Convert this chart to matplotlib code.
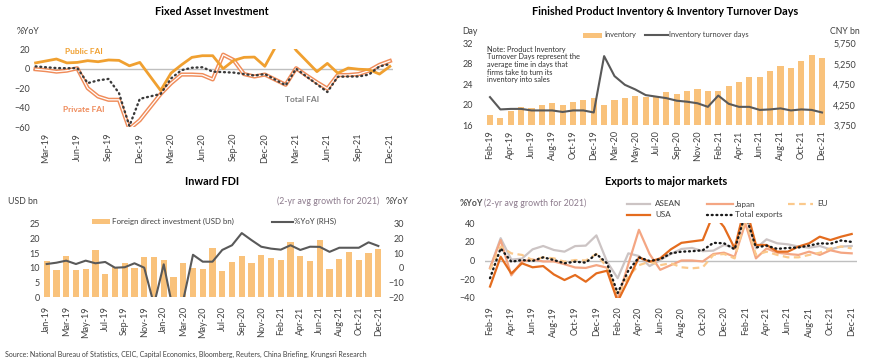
import matplotlib
matplotlib.use("Agg")
import matplotlib.pyplot as plt
import matplotlib.patheffects as pe
from matplotlib.lines import Line2D
from matplotlib.patches import Rectangle
import numpy as np
import pandas as pd

plt.rcParams['font.family'] = ['Lato', 'DejaVu Sans']

# ---------------- DATA ----------------
# Panel 1: Fixed Asset Investment (%YoY)
fai_months = ["Feb-19", "Mar-19", "Apr-19", "May-19", "Jun-19", "Jul-19", "Aug-19", "Sep-19", "Oct-19", "Nov-19", "Dec-19",
              "Feb-20", "Mar-20", "Apr-20", "May-20", "Jun-20", "Jul-20", "Aug-20", "Sep-20", "Oct-20", "Nov-20", "Dec-20",
              "Jan-21", "Feb-21", "Mar-21", "Apr-21", "May-21", "Jun-21", "Jul-21", "Aug-21", "Sep-21", "Oct-21", "Nov-21", "Dec-21"]
public_fai = [6, 8, 10, 6, 6.5, 8.3, 7.2, 9, 8.6, 3, 6.5,
              -22.4, -4.5, 4, 11.7, 13.4, 13.4, 0, 8.5, 11.7, 12, 2.5,
              22, 35, 19, 8, -3, 5.5, -4.5, 0.7, -0.5, -1, -5.5, 2.4]
private_fai = [-0.5, -1.5, -3, -2, 0.5, -20, -28.6, -32, -32, -62, -53,
               -26, -15, -6, -6, -6.5, -11, 14.5, 9, -5.5, -8, -6,
               np.nan, -16.5, 0.5, -7, -14, -20.5, -6.5, -6.5, -5.5, -2, 4, 8]
total_fai = [2.4, 1.5, 0.7, 0.5, 0.7, -14.8, -12, -10.5, -25, -59, -31,
             -26, -10, -1.5, 1, 1.5, -3, -3.5, -4, -5.5, -7, -5.5,
             np.nan, -17, 0, -8, -16, -24, -8.3, -8, -8, -6, 2.4, 4.8]
fai_ticks = ["Mar-19", "Jun-19", "Sep-19", "Dec-19", "Mar-20", "Jun-20", "Sep-20", "Dec-20",
             "Mar-21", "Jun-21", "Sep-21", "Dec-21"]

# Panel 2: Finished product inventory (CNY bn) & turnover days
inv_months = ["Feb-19", "Mar-19", "Apr-19", "May-19", "Jun-19", "Jul-19", "Aug-19", "Sep-19", "Oct-19", "Nov-19", "Dec-19",
              "Feb-20", "Mar-20", "Apr-20", "May-20", "Jun-20", "Jul-20", "Aug-20", "Sep-20", "Oct-20", "Nov-20", "Dec-20",
              "Feb-21", "Mar-21", "Apr-21", "May-21", "Jun-21", "Jul-21", "Aug-21", "Sep-21", "Oct-21", "Nov-21", "Dec-21"]
inventory = [4000, 3925, 4095, 4185, 4175, 4245, 4285, 4240, 4320, 4370, 4420,
             4240, 4375, 4420, 4460, 4430, 4450, 4555, 4520, 4580, 4635, 4595,
             4595, 4717, 4799, 4929, 4937, 5075, 5197, 5148, 5319, 5465, 5400]
turnover_days = [21.5, 19.1, 19.2, 19.2, 18.9, 18.9, 18.9, 18.6, 18.9, 18.9, 18.5,
                 29.5, 25.6, 23.9, 23.0, 21.9, 21.6, 21.3, 20.8, 20.6, 20.3, 19.6,
                 21.8, 20.2, 19.6, 19.6, 19.0, 19.1, 19.3, 18.9, 19.1, 19.0, 18.5]
inv_ticks = inv_months[::2]

# Panel 3: Inward FDI
fdi_months = ["Jan-19", "Feb-19", "Mar-19", "Apr-19", "May-19", "Jun-19", "Jul-19", "Aug-19", "Sep-19", "Oct-19", "Nov-19", "Dec-19",
              "Jan-20", "Feb-20", "Mar-20", "Apr-20", "May-20", "Jun-20", "Jul-20", "Aug-20", "Sep-20", "Oct-20", "Nov-20", "Dec-20",
              "Feb-21", "Mar-21", "Apr-21", "May-21", "Jun-21", "Jul-21", "Aug-21", "Sep-21", "Oct-21", "Nov-21", "Dec-21"]
fdi_usd = [12.4, 9.3, 14.0, 9.3, 9.5, 16.1, 8.0, 10.3, 11.6, 10.1, 13.6, 13.7,
           12.6, 6.8, 11.7, 10.0, 9.8, 16.7, 9.0, 12.0, 14.2, 11.8, 14.3, 13.4,
           12.7, 18.9, 14.2, 12.5, 19.4, 9.8, 13.1, 15.5, 12.7, 15.1, 16.4]
fdi_yoy = [2.7, 3.6, 5.0, 2.7, 5.0, 3.2, 4.1, 0.2, 0.5, 3.2, 0.2, -25,
           2.5, -30, -22, 9, 4.3, 4.3, 12.3, 15.5, 23.8, 19, 14.5, 13.2,
           12.5, 15.5, 12.3, 14.5, 14.4, 11, 13.8, 13.8, 13.8, 17.5, 15]
fdi_ticks = fdi_months[::2]

# Panel 4: Exports to major markets (%YoY)
exp_months = ["Feb-19", "Mar-19", "Apr-19", "May-19", "Jun-19", "Jul-19", "Aug-19", "Sep-19", "Oct-19", "Nov-19", "Dec-19",
              "Jan-20", "Feb-20", "Mar-20", "Apr-20", "May-20", "Jun-20", "Jul-20", "Aug-20", "Sep-20", "Oct-20", "Nov-20", "Dec-20",
              "Jan-21", "Feb-21", "Mar-21", "Apr-21", "May-21", "Jun-21", "Jul-21", "Aug-21", "Sep-21", "Oct-21", "Nov-21", "Dec-21"]
asean = [-8, 24, 1, 2, 12, 15.6, 11.3, 9.5, 15.5, 16, 27,
         -1.3, -19, 7.7, 4.8, -6, 0.5, 7, 12.4, 13.5, 10, 10.6, 16.7,
         14, 50, 13, 22.8, 18.5, 17.4, 15, 13.8, 15.6, 12, 15, 15.6]
japan = [-8, 22, -16, -1, 1, -1, -1, -4, -7.5, -8, -5,
         -7.7, -42, -4, 33, 7, -10, -5, 0, 0, -1, 7, 8.4,
         4, 40, 2.3, 13, 8.4, 7, 6, 9.5, 6, 11, 8.4, 7.7]
eu = [-10, 15, 7.7, 6, 0.5, 3.4, 2.3, -1.3, 0.5, 0, 7,
      -7.3, -37, -17, -5, -1.3, -5, -3, -7.3, -8.4, -7.3, 6, 7,
      2.3, 45, 6, 9.5, 6, 3.4, 3.4, 6, 8.4, 13, 15, 13]
usa = [-28, 4, -14, -3, -7.3, -6, -15, -21, -15.6, -22.8, -13.8,
       -11, -44, -21, 3.4, -1.3, 2.3, 12, 19, 20.5, 22, 50, 36,
       13, 60, 16.7, 16.7, 9.5, 9.5, 15, 18.5, 25.6, 22, 25.6, 28.5]
total_exports = [-19, 13, -1.3, 0.5, -0.5, 3.4, 0.5, -3, -1.3, -2.3, 7,
                 -3, -35, -11, 3.4, -0.5, 1.3, 7.7, 9.5, 10, 11, 19, 18.5,
                 12, 50, 14, 16, 12.5, 13.5, 14, 16, 18.5, 18, 21.5, 20]
exp_ticks = exp_months[::2]

# ---------------- STYLE ----------------
W, H = 870, 364
fig = plt.figure(figsize=(W / 100, H / 100), dpi=100)
TXT = '#404040'
BAR = '#F9C27B'
DARKLINE = '#595959'
MAUVE = '#8C7A8C'


def rect(l, t, r, b):
    return [l / W, 1 - b / H, (r - l) / W, (b - t) / H]


def ftxt(x, y, s, **kw):
    kw.setdefault('color', TXT)
    fig.text(x / W, 1 - y / H, s, **kw)


def fline(x0, x1, y, **kw):
    fig.add_artist(Line2D([x0 / W, x1 / W], [1 - y / H, 1 - y / H], transform=fig.transFigure, **kw))


def fpatch(x0, x1, y, h, color):
    fig.add_artist(Rectangle((x0 / W, 1 - (y + h / 2) / H), (x1 - x0) / W, h / H,
                             transform=fig.transFigure, color=color, lw=0))


def clean(ax):
    for s in ax.spines.values():
        s.set_visible(False)
    ax.tick_params(length=0, labelsize=6.5, colors=TXT)


def mpos(labels):
    d = pd.to_datetime(pd.Series(labels), format='%b-%y')
    return ((d.dt.year - 2019) * 12 + d.dt.month - 1).to_numpy(dtype=float)


# ---------------- PANEL 1 ----------------
ax1 = fig.add_axes(rect(33, 49.3, 393, 127))
clean(ax1)
x1 = mpos(fai_months)
ax1.axhline(0, color='#BFBFBF', lw=1, zorder=1)
ax1.plot(x1, public_fai, color='#F0A030', lw=2.0, zorder=3)
s_priv = pd.Series(private_fai, index=x1).dropna()
ax1.plot(s_priv.index, s_priv.values, color='white', lw=0.9, zorder=2,
         path_effects=[pe.Stroke(linewidth=3.0, foreground='#F08C5A'), pe.Normal()])
s_tot = pd.Series(total_fai, index=x1).dropna()
ax1.plot(s_tot.index, s_tot.values, color='#3A3A3A', lw=1.7, linestyle=(0, (0.4, 1.6)),
         dash_capstyle='round', zorder=4)
ax1.set_ylim(-60, 20)
ax1.set_yticks([-60, -40, -20, 0, 20])
ax1.set_xlim(0.75, 35.3)
ax1.set_xticks(mpos(fai_ticks))
ax1.set_xticklabels(fai_ticks, rotation=90)
ax1.tick_params(axis='x', pad=4.3)
ax1.tick_params(axis='y', pad=2.2)
ftxt(212, 11.7, 'Fixed Asset Investment', ha='center', va='center', fontsize=7.8, fontweight='bold', color='black')
ftxt(17, 31.7, '%YoY', ha='left', va='center', fontsize=6.3)
ftxt(83.5, 51, 'Public FAI', ha='center', va='center', fontsize=6, fontweight='bold', color='#F0A030')
ftxt(83.5, 109, 'Private FAI', ha='center', va='center', fontsize=6, fontweight='bold', color='#EE8A5A')
ftxt(302, 99, 'Total FAI', ha='center', va='center', fontsize=6, fontweight='bold', color='#7F7F7F')

# ---------------- PANEL 2 ----------------
ax2 = fig.add_axes(rect(484.8, 43.3, 827.2, 125.3))
ax2b = ax2.twinx()
clean(ax2)
clean(ax2b)
k2 = np.arange(len(inv_months))
ax2.bar(k2, inventory, width=0.6, color=BAR, zorder=2)
ax2.set_ylim(3750, 5750)
ax2.set_yticks(np.arange(3750, 5751, 500))
ax2.set_yticklabels([f'{v:,.0f}' for v in np.arange(3750, 5751, 500)])
ax2.set_xlim(-0.5, len(inv_months) - 0.5)
ax2.set_xticks(k2[::2])
ax2.set_xticklabels(inv_ticks, rotation=90)
ax2.tick_params(axis='x', pad=3.6)
ax2b.plot(k2, turnover_days, color=DARKLINE, lw=1.5)
ax2b.set_ylim(16, 32)
ax2b.set_yticks([16, 20, 24, 28, 32])
# bars' scale on the right, turnover days on the left
ax2.yaxis.tick_right()
ax2b.yaxis.tick_left()
ax2.tick_params(axis='y', pad=4.3, length=0)
ax2b.tick_params(axis='y', pad=8.6, length=0)
ftxt(665.5, 11.7, 'Finished Product Inventory & Inventory Turnover Days', ha='center', va='center',
     fontsize=7.8, fontweight='bold', color='black')
ftxt(462, 31, 'Day', ha='left', va='center', fontsize=6.3)
ftxt(830, 31, 'CNY bn', ha='left', va='center', fontsize=6.3)
fpatch(583, 602, 35, 5, BAR)
ftxt(604, 35, 'Inventory', ha='left', va='center', fontsize=5.4)
fline(645, 668, 35, color=DARKLINE, lw=1.5)
ftxt(669, 35, 'Inventory turnover days', ha='left', va='center', fontsize=5.4)
ftxt(487, 64.5, 'Note: Product Inventory\nTurnover Days represent the\naverage time in days that\nfirms take to turn its\ninventory into sales',
     ha='left', va='center', fontsize=5.3, linespacing=1.1, color='#303030')

# ---------------- PANEL 3 ----------------
ax3 = fig.add_axes(rect(41.8, 224, 383.2, 297.3))
ax3b = ax3.twinx()
clean(ax3)
clean(ax3b)
k3 = np.arange(len(fdi_months))
ax3.bar(k3, fdi_usd, width=0.65, color=BAR, zorder=2)
ax3.set_ylim(0, 25)
ax3.set_yticks([0, 5, 10, 15, 20, 25])
ax3.set_xlim(-0.5, len(fdi_months) - 0.5)
ax3.set_xticks(k3[::2])
ax3.set_xticklabels(fdi_ticks, rotation=90)
ax3.tick_params(axis='x', pad=6.5)
ax3.tick_params(axis='y', pad=1.5)
ax3b.plot(k3, fdi_yoy, color=DARKLINE, lw=1.5)
ax3b.set_ylim(-20, 30)
ax3b.set_yticks([-20, -10, 0, 10, 20, 30])
ax3b.tick_params(axis='y', pad=15)
for lab in ax3b.get_yticklabels():
    lab.set_horizontalalignment('right')
ftxt(212, 181.5, 'Inward FDI', ha='center', va='center', fontsize=7.8, fontweight='bold', color='black')
ftxt(8, 201.7, 'USD bn', ha='left', va='center', fontsize=6.3)
ftxt(277, 201.7, '(2-yr avg growth for 2021)', ha='left', va='center', fontsize=6.3, color=MAUVE)
ftxt(386, 201.7, '%YoY', ha='left', va='center', fontsize=6.3)
fpatch(92, 110, 221.7, 5, BAR)
ftxt(112, 221.7, 'Foreign direct investment (USD bn)', ha='left', va='center', fontsize=5.7)
fline(272, 293, 221.7, color=DARKLINE, lw=1.5)
ftxt(294, 221.7, '%YoY (RHS)', ha='left', va='center', fontsize=5.7)

# ---------------- PANEL 4 ----------------
ax4 = fig.add_axes(rect(484.7, 223.3, 857, 297.7))
clean(ax4)
k4 = np.arange(len(exp_months))
ax4.axhline(0, color='#BFBFBF', lw=1, zorder=1)
ax4.plot(k4, asean, color='#CCC4C4', lw=1.6, zorder=2)
ax4.plot(k4, japan, color='#F4A683', lw=1.6, zorder=3)
ax4.plot(k4, eu, color='#FBC98C', lw=1.6, linestyle=(0, (3, 2)), zorder=3)
ax4.plot(k4, usa, color='#E46C1E', lw=1.6, zorder=4)
ax4.plot(k4, total_exports, color='#1A1A1A', lw=1.7, linestyle=(0, (0.4, 1.6)),
         dash_capstyle='round', zorder=5)
ax4.set_ylim(-40, 40)
ax4.set_yticks([-40, -20, 0, 20, 40])
ax4.set_xlim(-0.5, len(exp_months) - 0.5)
ax4.set_xticks(k4[::2])
ax4.set_xticklabels(exp_ticks, rotation=90)
ax4.tick_params(axis='x', pad=6.5)
ax4.tick_params(axis='y', pad=7)
ftxt(666, 181.5, 'Exports to major markets', ha='center', va='center', fontsize=7.8, fontweight='bold', color='black')
ftxt(460, 203.5, '%YoY', ha='left', va='center', fontsize=6.3, fontweight='bold', color='#505050')
ftxt(484, 203.5, '(2-yr avg growth for 2021)', ha='left', va='center', fontsize=6.3, color=MAUVE)
fline(627, 650, 204, color='#CCC4C4', lw=1.6)
ftxt(655, 204, 'ASEAN', ha='left', va='center', fontsize=5.9)
fline(707, 733, 204, color='#F4A683', lw=1.6)
ftxt(735, 204, 'Japan', ha='left', va='center', fontsize=5.9)
fline(788, 813, 204, color='#FBC98C', lw=1.6, linestyle=(0, (3, 2)))
ftxt(817, 204, 'EU', ha='left', va='center', fontsize=5.9)
fline(627, 650, 214.7, color='#E46C1E', lw=1.6)
ftxt(655, 214.7, 'USA', ha='left', va='center', fontsize=5.9)
fline(707, 733, 214.7, color='#1A1A1A', lw=1.7, linestyle=(0, (0.4, 1.6)), dash_capstyle='round')
ftxt(735, 214.7, 'Total exports', ha='left', va='center', fontsize=5.9)

# ---------------- SOURCE ----------------
ftxt(5, 354, 'Source: National Bureau of Statistics, CEIC, Capital Economics, Bloomberg, Reuters, China Briefing, Krungsri Research',
     ha='left', va='center', fontsize=5.0)

fig.savefig('out.png', dpi=100, facecolor='white')
